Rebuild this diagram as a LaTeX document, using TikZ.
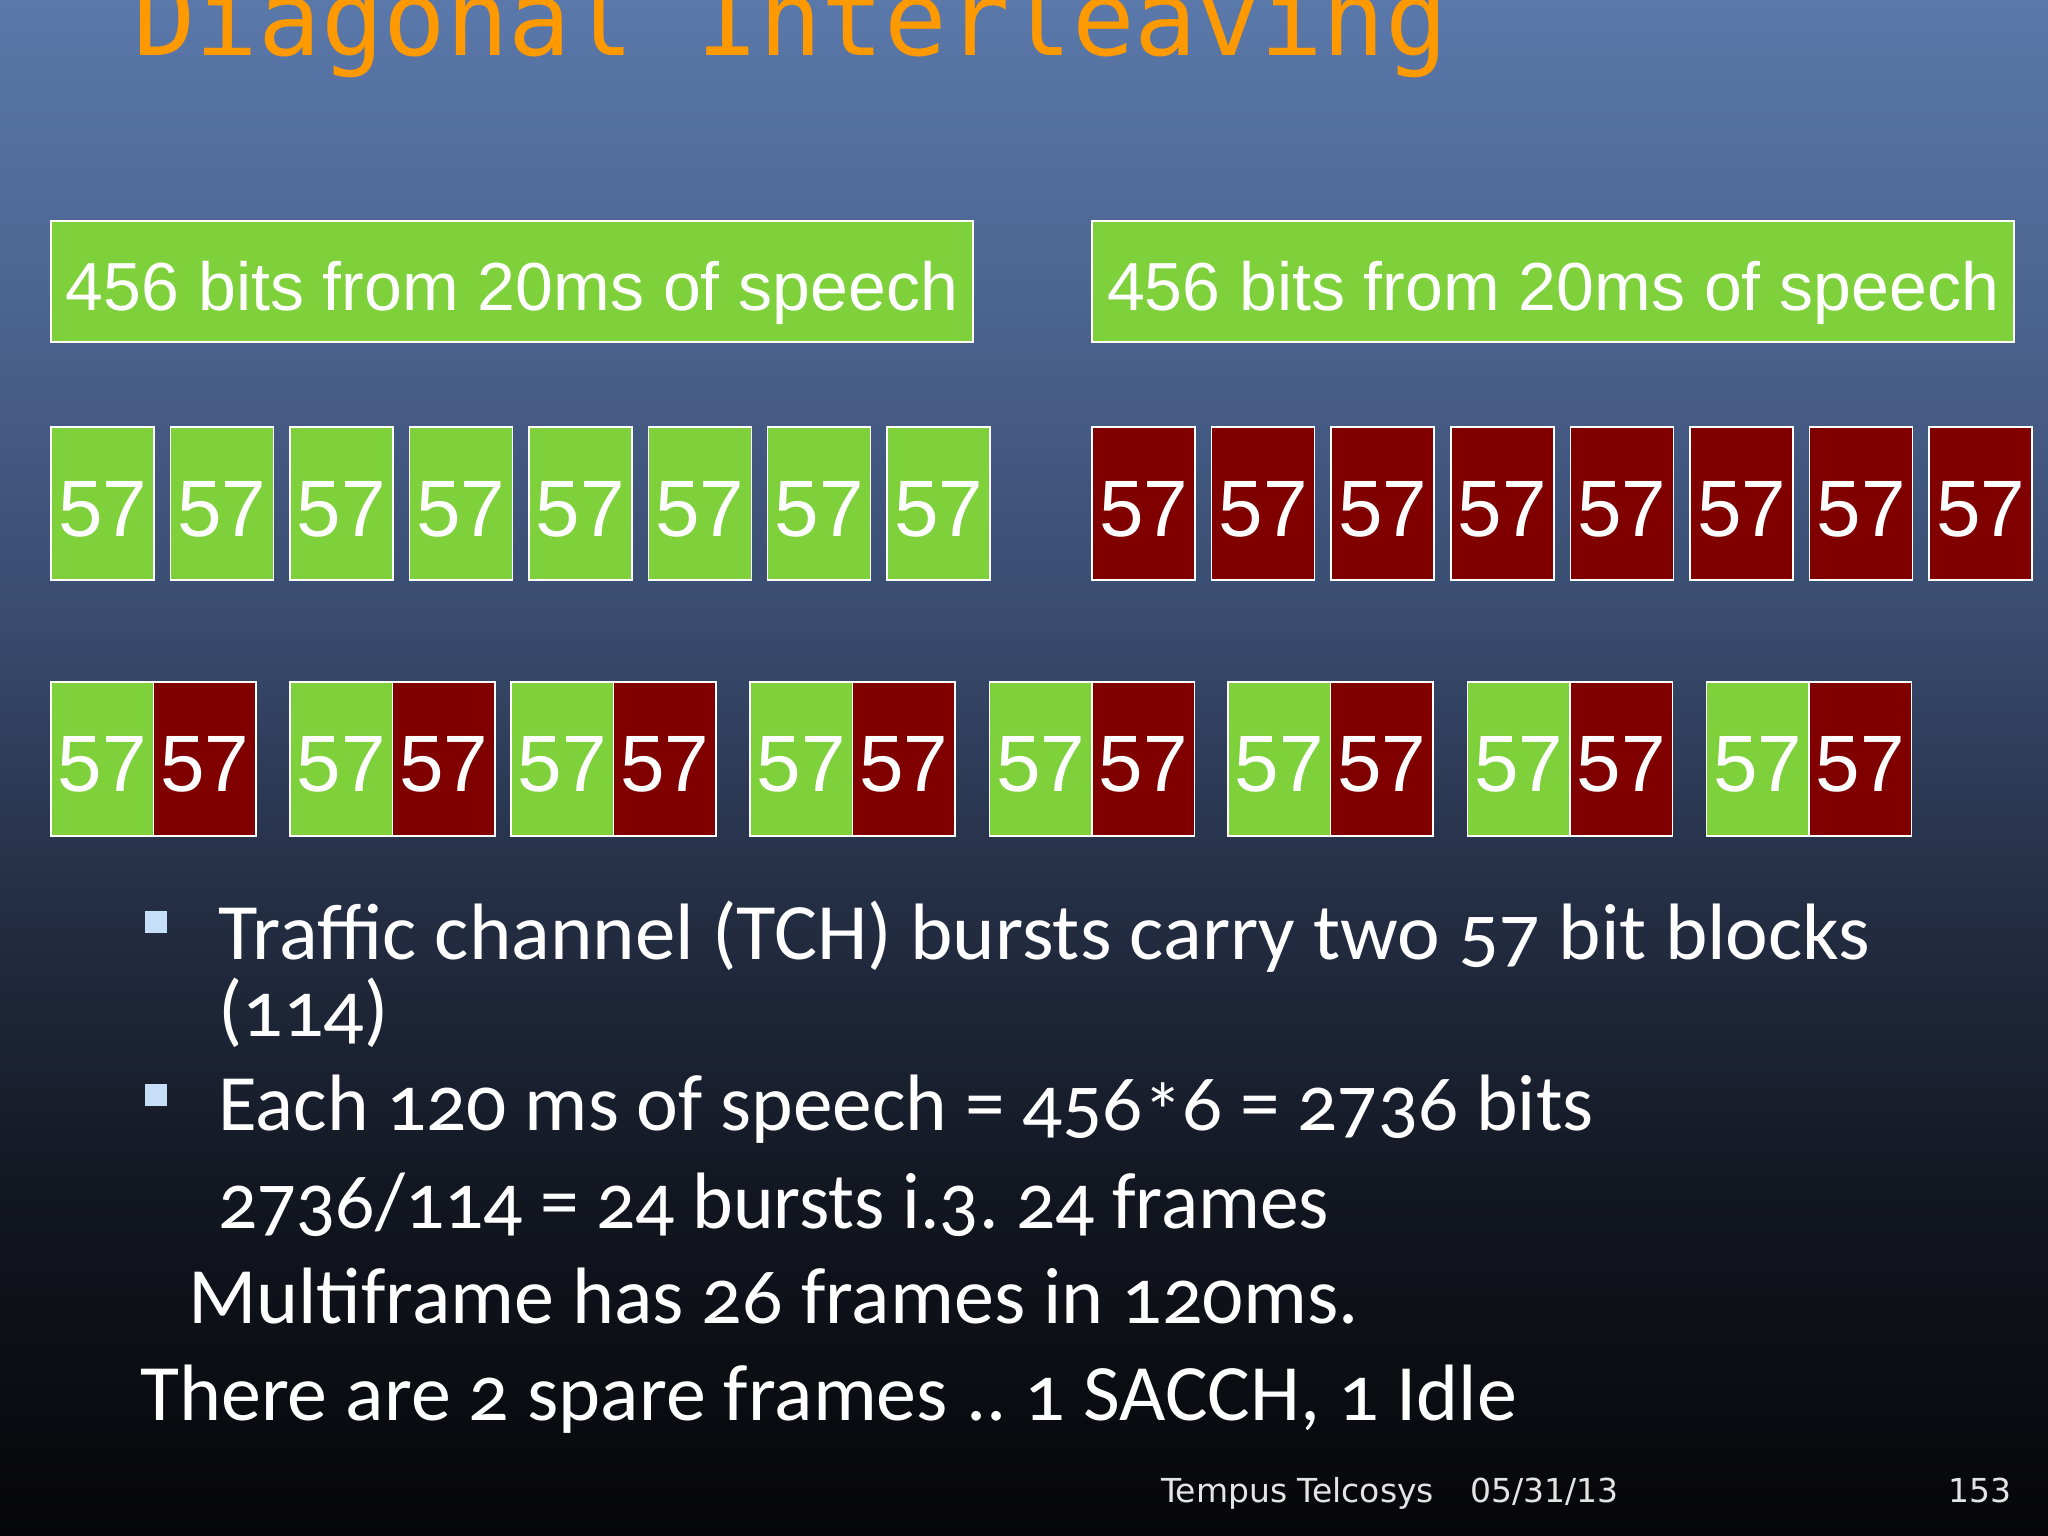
\documentclass[tikz,border=0pt]{standalone}
\usepackage{fontspec}
\setmainfont{Carlito}[Numbers=OldStyle]
\newfontfamily\boxfont{Liberation Sans}
\newfontfamily\titlefont{DejaVu Sans Mono}
\newfontfamily\footfont{DejaVu Sans}
\frenchspacing
\definecolor{bgA}{RGB}{90,120,170}
\definecolor{bgB}{RGB}{76,100,145}
\definecolor{bgC}{RGB}{58,77,113}
\definecolor{bgD}{RGB}{36,46,68}
\definecolor{bgE}{RGB}{18,22,32}
\definecolor{bgF}{RGB}{6,6,8}
\definecolor{boxgreen}{RGB}{127,209,59}
\definecolor{boxred}{RGB}{128,0,0}
\definecolor{titleorange}{RGB}{255,153,0}
\definecolor{bulletblue}{RGB}{198,222,248}
\definecolor{footgrey}{RGB}{228,228,228}
\pgfdeclareverticalshading{slidebg}{100bp}{color(0bp)=(bgF); color(25bp)=(bgF); color(35.9bp)=(bgE); color(45.7bp)=(bgD); color(55.5bp)=(bgC); color(65.2bp)=(bgB); color(75bp)=(bgA); color(100bp)=(bgA)}
\newcommand{\lowstar}{\raisebox{-0.12em}{*}}
\tikzset{
  cell/.style={draw=white, line width=1.5pt, text=white, inner sep=0pt,
    font=\boxfont\fontsize{80}{80}\selectfont, text height=65pt, text depth=0pt},
  gcell/.style={cell, fill=boxgreen, minimum width=103pt, minimum height=153pt},
  rcell/.style={cell, fill=boxred, minimum width=103pt, minimum height=153pt},
  hgcell/.style={cell, fill=boxgreen, minimum width=102.5pt, minimum height=154pt},
  hrcell/.style={cell, fill=boxred, minimum width=102.5pt, minimum height=154pt},
  bigbox/.style={draw=white, line width=1.5pt, fill=boxgreen, text=white, inner sep=0pt,
    font=\boxfont\fontsize{68}{68}\selectfont, text height=57pt, text depth=0pt,
    minimum width=922pt, minimum height=121pt},
  bulletsq/.style={fill=bulletblue, minimum size=22pt, inner sep=0pt},
  bodytext/.style={anchor=base west, inner sep=0pt, text=white, font=\fontsize{80}{80}\selectfont},
  foottext/.style={inner sep=0pt, text=footgrey, font=\footfont\fontsize{33}{33}\selectfont}
}
\begin{document}
\begin{tikzpicture}[x=1pt,y=-1pt]
\useasboundingbox (0,0) rectangle (2048,1536);
\clip (0,0) rectangle (2048,1536);
\shade[shading=slidebg] (0,0) rectangle (2048,1536);
% title
\node[anchor=base west, inner sep=0pt, text=titleorange, font=\titlefont\fontsize{104}{104}\selectfont] (title) at (133,56) {Diagonal Interleaving};
% top boxes
\node[bigbox] (speechL) at (512,281.5) {456 bits from 20ms of speech};
\node[bigbox] (speechR) at (1553,281.5) {456 bits from 20ms of speech};
% middle row
\foreach \i in {0,...,7} {
  \node[gcell] (l\i) at ({102.5+119.45*\i},503.5) {57};
  \node[rcell] (r\i) at ({1143.5+119.6*\i},503.5) {57};
}
% bottom row
\foreach \s [count=\k] in {51,290,511,750,989.5,1228,1467.5,1706.5} {
  \node[hgcell] (pg\k) at ({\s+51.25},759) {57};
  \node[hrcell] (pr\k) at ({\s+153.75},759) {57};
}
% bullets
\node[bulletsq] (b1) at (155.5,922) {};
\node[bulletsq] (b2) at (155.5,1094.5) {};
\node[bodytext] (t1) at (218,959) {\scalebox{1.01}[1]{Traffic channel (TCH) bursts carry two 57 bit blocks}};
\node[bodytext] (t2) at (218,1036) {(114)};
\node[bodytext] (t3) at (218,1130) {\scalebox{0.99}[1]{Each 120 ms of speech = 456\lowstar6 = 2736 bits}};
\node[bodytext] (t4) at (218,1228) {\scalebox{0.968}[1]{2736/114 = 24 bursts i.3. 24 frames}};
\node[bodytext] (t5) at (188,1323) {Multiframe has 26 frames in 120ms.};
\node[bodytext] (t6) at (140,1420) {There are 2 spare frames .. 1 SACCH, 1 Idle};
% footer
\node[foottext, anchor=base west] (f1) at (1161,1502) {Tempus Telcosys};
\node[foottext, anchor=base west] (f2) at (1470,1502) {05/31/13};
\node[foottext, anchor=base east] (f3) at (2012,1502) {153};
\end{tikzpicture}
\end{document}
